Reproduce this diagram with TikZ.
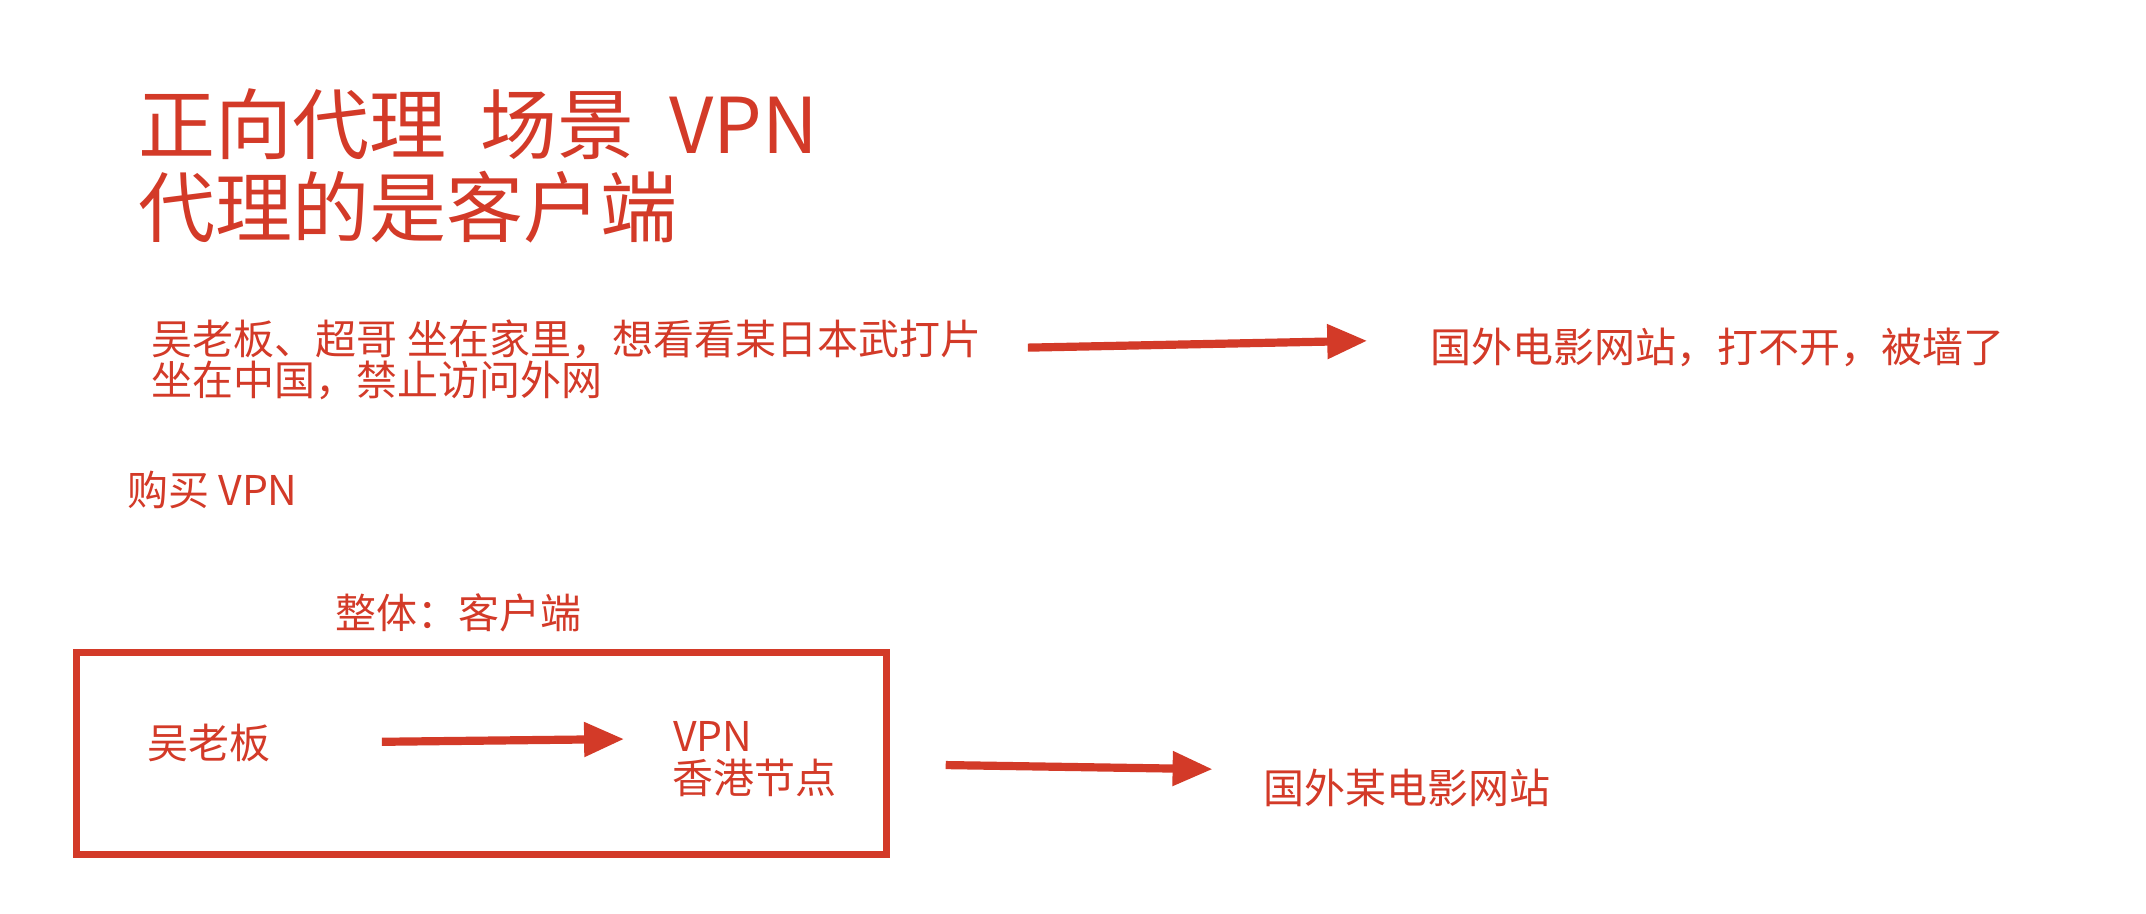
\documentclass[tikz,border=0pt]{standalone}
\usepackage{fontspec}
\setmainfont{Noto Sans CJK SC}
\usetikzlibrary{arrows.meta}
\definecolor{rd}{RGB}{211,58,40}
\begin{document}
\begin{tikzpicture}[x=1.3686pt,y=-1.3686pt,
  txt/.style={anchor=base west, inner sep=0pt, outer sep=0pt, text=rd, font=\fontsize{41}{43}\selectfont},
  ttl/.style={anchor=base west, inner sep=0pt, outer sep=0pt, text=rd, font=\fontsize{77}{79}\selectfont},
  arr/.style={draw=rd, line width=8.2pt, -{Triangle[length=40pt,width=33pt]}},
  frame/.style={draw=rd, line width=7pt, inner sep=0pt, minimum width=810pt, minimum height=202pt, anchor=north west}]
\useasboundingbox (0,0) rectangle (1568,667.8);
\fill[white] (0,0) rectangle (1568,667.8);
\node[ttl] (t1) at (101,112) {正向代理\hspace{0.45em}场景\hspace{0.45em}VPN};
\node[ttl] (t2) at (101,173) {代理的是客户端};
\node[txt] (s1) at (111,259) {吴老板、超哥 坐在家里，想看看某日本武打片};
\node[txt] (s2) at (111,289) {坐在中国，禁止访问外网};
\node[txt] (w1) at (1045,265) {国外电影网站，打不开，被墙了};
\node[txt] (buy) at (93,369) {购买 VPN};
\node[txt] (whole) at (245,459) {整体：客户端};
\node[frame] (box) at (53,474) {};
\node[txt] (boss) at (108,554) {吴老板};
\node[txt] (vpn) at (492,549) {VPN};
\node[txt] (hk) at (491,580) {香港节点};
\node[txt] (w2) at (923,587) {国外某电影网站};
\coordinate (a1s) at (751,254);
\coordinate (a1e) at (999,249);
\coordinate (a2s) at (279,542);
\coordinate (a2e) at (456,540);
\coordinate (a3s) at (691,559);
\coordinate (a3e) at (886,562);
\draw[arr] (a1s) -- (a1e);
\draw[arr] (a2s) -- (a2e);
\draw[arr] (a3s) -- (a3e);
\end{tikzpicture}
\end{document}
